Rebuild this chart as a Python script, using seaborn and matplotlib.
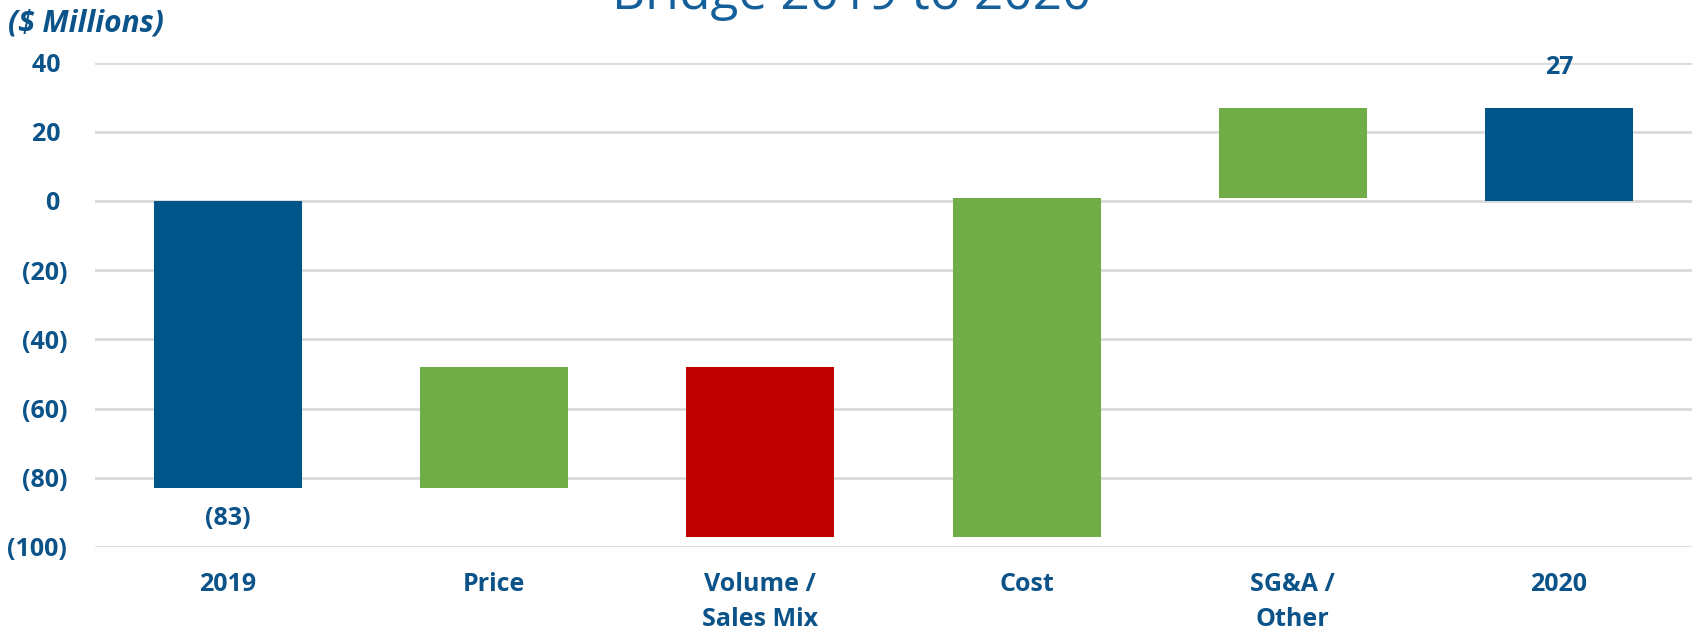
import matplotlib
matplotlib.use("Agg")
import matplotlib.pyplot as plt
import seaborn as sns
import numpy as np

categories = ["2019", "Price", "Volume /\nSales Mix", "Cost", "SG&A /\nOther", "2020"]
changes = [-83, 35, -49, 98, 26, 27]
kinds = ["total", "delta", "delta", "delta", "delta", "total"]
y_ticks = [40, 20, 0, -20, -40, -60, -80, -100]

TEXT = "#0b5389"
BLUE = "#00568a"
GREEN = "#70ad47"
RED = "#c00000"
GRID = "#d9d9d9"

sns.set_theme(style="white")
plt.rcParams["font.family"] = ["Open Sans", "DejaVu Sans"]

# compute bottoms / heights for waterfall
bottoms, heights, colors = [], [], []
running = 0.0
for v, k in zip(changes, kinds):
    if k == "total":
        bottoms.append(0.0)
        heights.append(v)
        colors.append(BLUE)
        running = v
    else:
        bottoms.append(running)
        heights.append(v)
        colors.append(GREEN if v > 0 else RED)
        running += v

fig = plt.figure(figsize=(16.92, 6.31), dpi=100)
ax = fig.add_axes([95 / 1692, 1 - 547 / 631, 1 - 95 / 1692, (547 - 62.6) / 631])

for cat, b, h, c in zip(categories, bottoms, heights, colors):
    sns.barplot(x=[cat], y=[h], bottom=b, color=c, order=categories, width=0.556,
                errorbar=None, ax=ax, saturation=1, edgecolor="none", zorder=3)

ax.set_ylim(-100, 40)
ax.set_xlim(-0.5, 5.5)
ax.set_yticks(y_ticks)
ax.set_yticklabels([f"({abs(t)})" if t < 0 else f"{t} " for t in y_ticks],
                   fontsize=18, fontweight="bold", color=TEXT)
ax.set_xticks(range(len(categories)))
ax.set_xticklabels(categories, fontsize=18, fontweight="bold", color=TEXT, linespacing=1.55)
ax.tick_params(axis="y", length=0, pad=20)
ax.tick_params(axis="x", length=0, pad=18)
for lab in ax.get_xticklabels():
    lab.set_verticalalignment("top")
ax.set_xlabel("")
ax.set_ylabel("")
for s in ax.spines.values():
    s.set_visible(False)
ax.grid(axis="y", color=GRID, linewidth=2, zorder=0)
ax.set_axisbelow(True)

# data labels for totals
ax.annotate("(83)", xy=(0, changes[0]), xytext=(0, -22), textcoords="offset points",
            ha="center", va="center", fontsize=18, fontweight="bold", color=TEXT)
ax.annotate(f"{changes[-1]}", xy=(5, changes[-1]), xytext=(0, 29), textcoords="offset points",
            ha="center", va="center", fontsize=18, fontweight="bold", color=TEXT)

fig.text(8 / 1692, 1 - 24 / 631, "($ Millions)", fontsize=21.5, fontweight="bold",
         fontstyle="italic", color=TEXT, ha="left", va="center")
fig.text(852 / 1692, 1 - 8.6 / 631, "Bridge 2019 to 2020", fontsize=37, color="#15609a",
         ha="center", va="baseline")

fig.savefig("out.png", dpi=100)
